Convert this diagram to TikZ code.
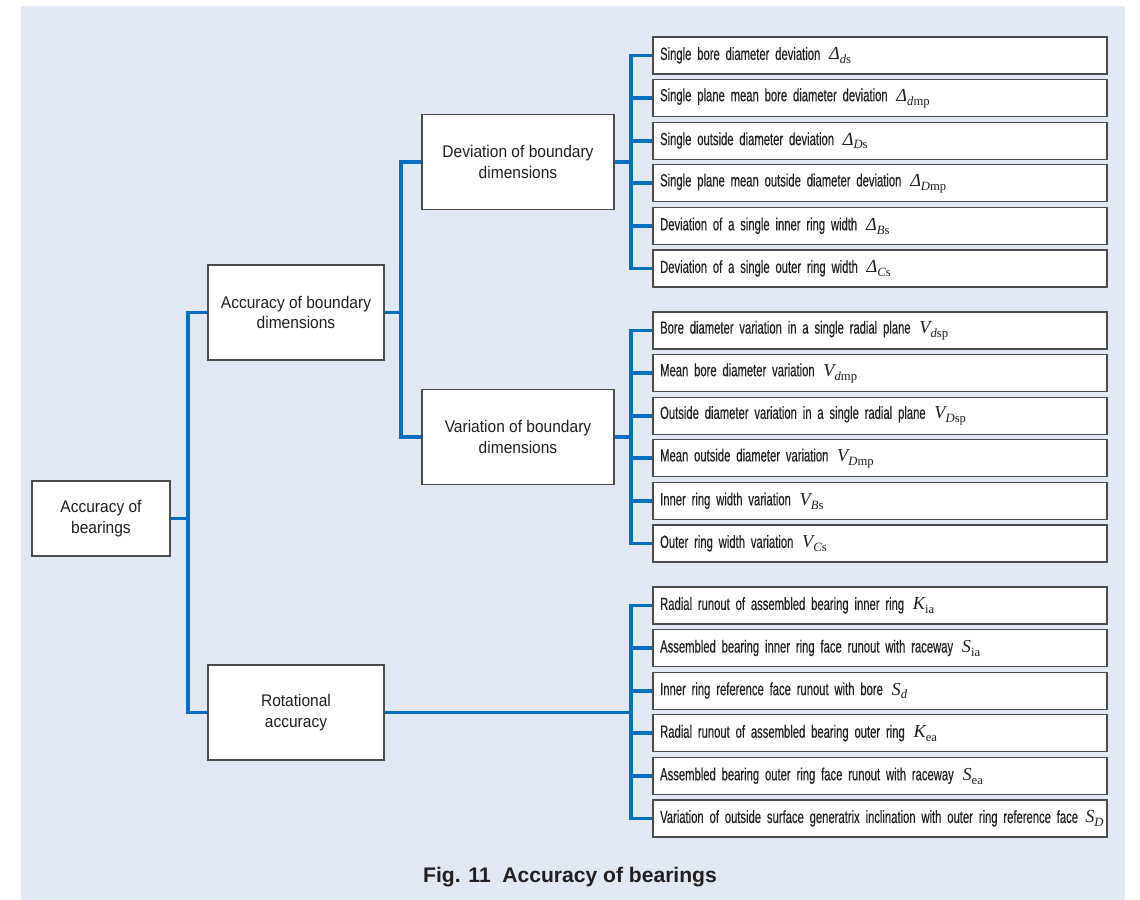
\documentclass[tikz,border=0pt]{standalone}
\usepackage{fontspec}
\setmainfont{Liberation Sans}
\newfontfamily\midfont[FakeStretch=0.92]{Liberation Sans}
\newfontfamily\leaffont[FakeStretch=0.64, FakeBold=0.25]{Liberation Sans}
\newfontfamily\symfont{Liberation Serif}
\definecolor{panelbg}{HTML}{E1E8F4}
\definecolor{linkblue}{HTML}{0070C0}
\definecolor{inkgray}{HTML}{231F20}
\newcommand{\leafsetup}{\leaffont\fontsize{12.5}{14}\selectfont\spaceskip=1.3pt plus 1pt minus 0.3pt\relax}
\newcommand{\accsym}[3]{{\symfont\fontsize{13}{13}\selectfont\itshape #1\raisebox{-0.45ex}{\fontsize{9}{9}\selectfont #2\upshape #3}}}
\newcommand{\symgap}{\hspace{0.22cm}}
\begin{document}
\begin{tikzpicture}
        [x=0.025cm, y=-0.025cm,
        pbox/.style={draw=black!70, line width=0.9pt, fill=white, align=center, text=inkgray, font=\midfont\fontsize{12}{14.5}\selectfont},
        leaf/.style={draw=black!70, line width=0.9pt, fill=white, minimum height=0.925cm, text width=10.99cm, inner xsep=0.18cm, align=left, text=inkgray, font=\leafsetup},
        link/.style={draw=linkblue, line width=2.8pt}]
        \useasboundingbox (0,0) rectangle (1140,900);
        \fill[panelbg] (21,6) rectangle (1125,900);

        \node[pbox, minimum width=3.45cm, minimum height=1.875cm] (bear) at (101,518.5) {Accuracy of\\bearings};
        \node[pbox, minimum width=4.4cm, minimum height=2.375cm] (bound) at (296,312.5) {Accuracy of boundary\\dimensions};
        \node[pbox, minimum width=4.4cm, minimum height=2.375cm] (rot) at (296,712.5) {Rotational\\accuracy};
        \node[pbox, minimum width=4.8cm, minimum height=2.375cm] (dev) at (518,162) {Deviation of boundary\\dimensions};
        \node[pbox, minimum width=4.8cm, minimum height=2.375cm] (var) at (518,437) {Variation of boundary\\dimensions};

        % deviation
        \node[leaf] (d1) at (880,55.5) {Single bore diameter deviation\symgap\accsym{Δ}{d}{s}};
        \node[leaf] (d2) at (880,98.1) {Single plane mean bore diameter deviation\symgap\accsym{Δ}{d}{mp}};
        \node[leaf] (d3) at (880,140.7) {Single outside diameter deviation\symgap\accsym{Δ}{D}{s}};
        \node[leaf] (d4) at (880,183.3) {Single plane mean outside diameter deviation\symgap\accsym{Δ}{D}{mp}};
        \node[leaf] (d5) at (880,225.9) {Deviation of a single inner ring width\symgap\accsym{Δ}{B}{s}};
        \node[leaf] (d6) at (880,268.5) {Deviation of a single outer ring width\symgap\accsym{Δ}{C}{s}};

        % variation
        \node[leaf] (v1) at (880,330.5) {Bore diameter variation in a single radial plane\symgap\accsym{V}{d}{sp}};
        \node[leaf] (v2) at (880,373.1) {Mean bore diameter variation\symgap\accsym{V}{d}{mp}};
        \node[leaf] (v3) at (880,415.7) {Outside diameter variation in a single radial plane\symgap\accsym{V}{D}{sp}};
        \node[leaf] (v4) at (880,458.3) {Mean outside diameter variation\symgap\accsym{V}{D}{mp}};
        \node[leaf] (v5) at (880,500.9) {Inner ring width variation\symgap\accsym{V}{B}{s}};
        \node[leaf] (v6) at (880,543.5) {Outer ring width variation\symgap\accsym{V}{C}{s}};

        % rotational
        \node[leaf] (r1) at (880,605.5) {Radial runout of assembled bearing inner ring\symgap\accsym{K}{}{ia}};
        \node[leaf] (r2) at (880,648.1) {Assembled bearing inner ring face runout with raceway\symgap\accsym{S}{}{ia}};
        \node[leaf] (r3) at (880,690.7) {Inner ring reference face runout with bore\symgap\accsym{S}{d}{}};
        \node[leaf] (r4) at (880,733.3) {Radial runout of assembled bearing outer ring\symgap\accsym{K}{}{ea}};
        \node[leaf] (r5) at (880,775.9) {Assembled bearing outer ring face runout with raceway\symgap\accsym{S}{}{ea}};
        \node[leaf] (r6) at (880,818.5) {\mbox{Variation of outside surface generatrix inclination with outer ring reference face\hspace{0.18cm}\accsym{S}{D}{}}};

        \coordinate (jbear) at (188,518.5);
        \coordinate (jbound) at (401,312.5);
        \coordinate (jdev) at (631,162);
        \coordinate (jvar) at (631,437);
        \coordinate (jrot) at (631,712.5);

        \draw[link] (bear.east) -- (jbear);
        \draw[link] (jbear) |- (bound.west) (jbear) |- (rot.west);
        \draw[link] (bound.east) -- (jbound);
        \draw[link] (jbound) |- (dev.west) (jbound) |- (var.west);

        \draw[link] (dev.east) -- (jdev);
        \draw[link] (jdev) |- (d1.west) (jdev) |- (d2.west) (jdev) |- (d3.west)
                    (jdev) |- (d4.west) (jdev) |- (d5.west) (jdev) |- (d6.west);
        \draw[link] (var.east) -- (jvar);
        \draw[link] (jvar) |- (v1.west) (jvar) |- (v2.west) (jvar) |- (v3.west)
                    (jvar) |- (v4.west) (jvar) |- (v5.west) (jvar) |- (v6.west);
        \draw[link] (rot.east) -- (jrot);
        \draw[link] (jrot) |- (r1.west) (jrot) |- (r2.west) (jrot) |- (r3.west)
                    (jrot) |- (r4.west) (jrot) |- (r5.west) (jrot) |- (r6.west);

        \node[anchor=base, text=inkgray, font=\bfseries\fontsize{15}{18}\selectfont] (cap) at (570,882) {Fig. 11\hspace{0.55em}Accuracy of bearings};
    \end{tikzpicture}
\end{document}
